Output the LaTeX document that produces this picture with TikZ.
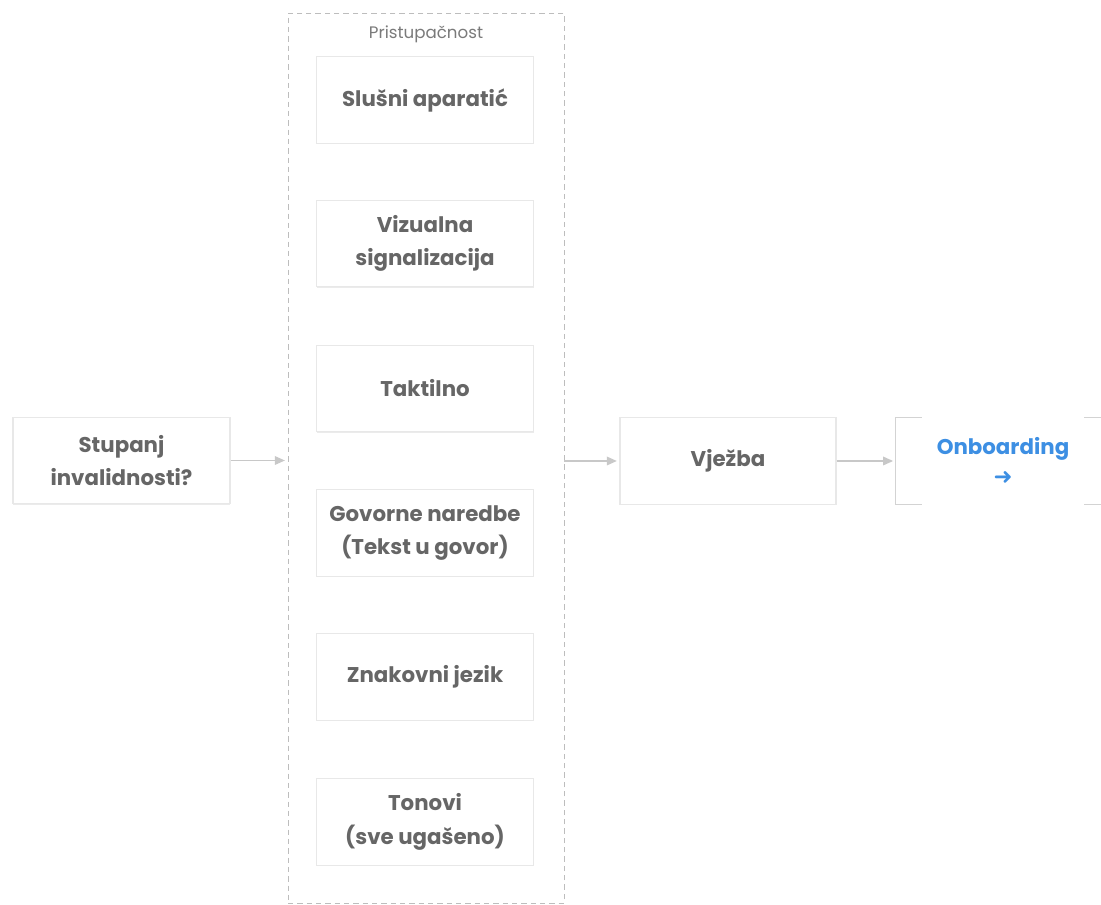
\documentclass[tikz,border=0pt]{standalone}
\usepackage{fontspec}
\setmainfont{Poppins}
\newfontfamily\symfont{DejaVu Sans}
\usetikzlibrary{arrows.meta,shadows}
\definecolor{txtgray}{HTML}{666666}
\definecolor{titlegray}{HTML}{7A7A7A}
\definecolor{boxline}{HTML}{E8E8E8}
\definecolor{arrowgray}{HTML}{C8C8C8}
\definecolor{dashgray}{HTML}{BDBDBD}
\definecolor{onbblue}{HTML}{3D8FE3}
\tikzset{
  card/.style={draw=boxline, line width=0.8pt, fill=white,
    minimum width=162.75pt, minimum height=65pt, align=center,
    font=\fontsize{16pt}{25pt}\selectfont\bfseries, text=txtgray,
    drop shadow={shadow xshift=0pt, shadow yshift=-0.8pt, opacity=0.08, fill=black}},
  container/.style={draw=dashgray, line width=0.7pt, dash pattern=on 4pt off 3pt,
    minimum width=207pt, minimum height=667.5pt},
  flow/.style={draw=arrowgray, line width=0.9pt, -{Triangle[length=7.5pt,width=6.5pt]}, shorten >=2pt},
  bracket/.style={draw=arrowgray!80, line width=0.8pt}
}
\begin{document}
\begin{tikzpicture}[x=0.75pt,y=-0.75pt]
\clip (0,0) rectangle (1101,905);
\useasboundingbox (0,0) rectangle (1101,905);
\fill[white] (0,0) rectangle (1101,905);

% container
\node[container] (cont) at (426,458) {};
\node[font=\fontsize{12.5pt}{14pt}\selectfont, text=titlegray] (title) at (426,34) {Pristupačnost};

% column cards
\node[card] (slusni) at (425,100) {Slušni aparatić};
\node[card] (vizual) at (425,243.5) {Vizualna\\signalizacija};
\node[card] (takt) at (425,388.5) {Taktilno};
\node[card] (govor) at (425,533) {Govorne naredbe\\(Tekst u govor)};
\node[card] (znak) at (425,677) {Znakovni jezik};
\node[card] (ton) at (425,822) {Tonovi\\(sve ugašeno)};

% left and right cards
\node[card] (stup) at (121.5,460.5) {Stupanj\\invalidnosti?};
\node[card, minimum width=162pt] (vjez) at (728,461) {Vježba};

% onboarding bracket node
\node[minimum width=160.5pt, minimum height=64.5pt, align=center,
  font=\fontsize{16pt}{25pt}\selectfont\bfseries, text=onbblue] (onb) at (1003,461)
  {Onboarding\\[-3pt]{\symfont\fontsize{17pt}{17pt}\selectfont ➜}};
\draw[bracket] ([xshift=19.5pt]onb.north west) -- (onb.north west) -- (onb.south west) -- ([xshift=19.5pt]onb.south west);
\draw[bracket] ([xshift=-19.5pt]onb.north east) -- (onb.north east) -- (onb.south east) -- ([xshift=-19.5pt]onb.south east);

% connectors
\draw[flow] (stup.east) -- (stup.east -| cont.west);
\draw[flow] (vjez.west -| cont.east) -- (vjez.west);
\draw[flow] (vjez.east) -- (onb.west);
\end{tikzpicture}
\end{document}
